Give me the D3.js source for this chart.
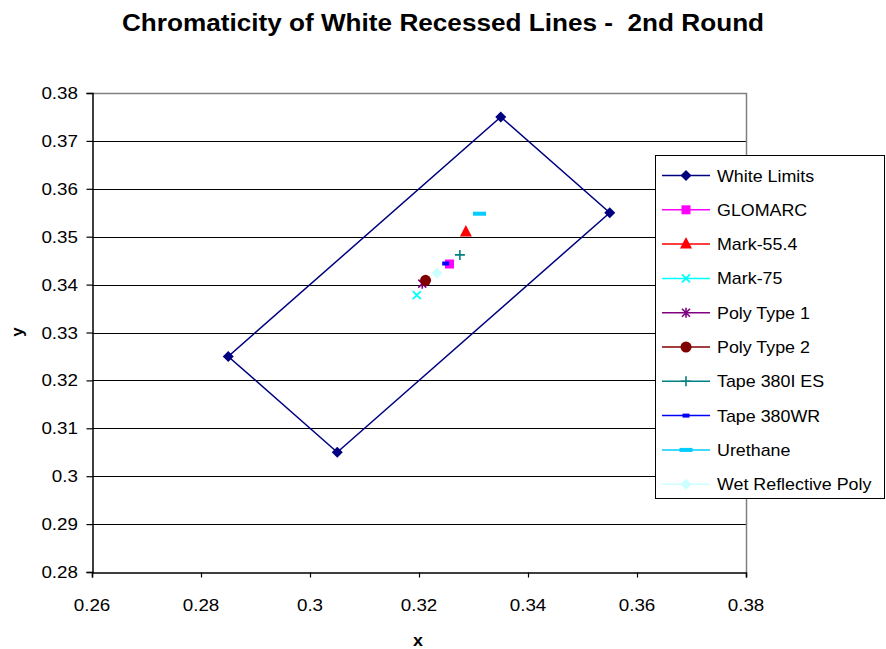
<!DOCTYPE html>
<html>
<head>
<meta charset="utf-8">
<script src="https://cdn.jsdelivr.net/npm/d3@7"></script>
<style>
  html, body { margin: 0; padding: 0; background: #fff; }
  svg { display: block; font-family: Arial, "Liberation Sans", sans-serif; }
  svg text { white-space: pre; }
</style>
</head>
<body>
<svg id="chart" width="886" height="649"></svg>
<script>
// Chromaticity coordinates (CIE x, y)
const seriesNames = ["White Limits", "GLOMARC", "Mark-55.4", "Mark-75", "Poly Type 1",
  "Poly Type 2", "Tape 380I ES", "Tape 380WR", "Urethane", "Wet Reflective Poly"];

// White limit polygon corners (closed)
const whiteLimitsX = [0.305, 0.285, 0.335, 0.355, 0.305];
const whiteLimitsY = [0.305, 0.325, 0.375, 0.355, 0.305];

// One measured point per material (same order as seriesNames, after White Limits)
const materialX = [0.3256, 0.3286, 0.3196, 0.3206, 0.3212, 0.3275, 0.3249, 0.3311, 0.3233];
const materialY = [0.3443, 0.3510, 0.3378, 0.3402, 0.3409, 0.3462, 0.3444, 0.3548, 0.3424];

const xTicks = [0.26, 0.28, 0.30, 0.32, 0.34, 0.36, 0.38];
const yTicks = [0.28, 0.29, 0.30, 0.31, 0.32, 0.33, 0.34, 0.35, 0.36, 0.37, 0.38];

const colors = ["#000080", "#FF00FF", "#FF0000", "#00FFFF", "#800080",
  "#800000", "#008080", "#0000FF", "#00CCFF", "#CCFFFF"];
const shapes = ["diamond", "square", "triangle", "cross", "star",
  "circle", "plus", "dash", "longdash", "diamond"];

const svg = d3.select("#chart");
const plot = { left: 92, right: 746, top: 93, bottom: 572 };

const x = d3.scaleLinear().domain([0.26, 0.38]).range([plot.left, plot.right]);
const y = d3.scaleLinear().domain([0.28, 0.38]).range([plot.bottom, plot.top]);

// Horizontally widened text, the way the chart's typeface renders
function wideText(parent, px, py, str, opts) {
  const g = parent.append("g")
    .attr("transform", `translate(${px},${py}) scale(${opts.sx || 1.1},1)`);
  g.append("text")
    .attr("text-anchor", opts.anchor || "start")
    .attr("font-size", opts.size)
    .attr("font-weight", opts.weight || "normal")
    .attr("fill", "#000")
    .text(str);
  return g;
}

// Title
wideText(svg, 443, 31, "Chromaticity of White Recessed Lines -  2nd Round",
  { anchor: "middle", size: 24, weight: "bold", sx: 1.09 });

// Horizontal gridlines
svg.append("g").selectAll("line")
  .data(yTicks.filter(t => t > 0.28 && t < 0.38))
  .join("line")
  .attr("x1", plot.left).attr("x2", plot.right)
  .attr("y1", d => Math.round(y(d)) + 0.5).attr("y2", d => Math.round(y(d)) + 0.5)
  .attr("stroke", "#000").attr("stroke-width", 1);

// Plot border (top and right, gray)
svg.append("path")
  .attr("d", `M${plot.left},${plot.top + 0.5}H${plot.right + 0.5}V${plot.bottom}`)
  .attr("fill", "none").attr("stroke", "#808080").attr("stroke-width", 1.5);

// Axes
const xAxis = svg.append("g")
  .attr("transform", `translate(0,${plot.bottom + 0.5})`)
  .call(d3.axisBottom(x).tickValues(xTicks).tickSize(5).tickFormat(() => ""));
const yAxis = svg.append("g")
  .attr("transform", `translate(${plot.left + 0.5},0)`)
  .call(d3.axisLeft(y).tickValues(yTicks).tickSize(6).tickFormat(() => ""));
[xAxis, yAxis].forEach(a => {
  a.select(".domain").attr("stroke", "#000").attr("stroke-width", 1.5);
  a.selectAll(".tick line").attr("stroke", "#000").attr("stroke-width", 1.2);
});

const fmt = d => String(+d.toFixed(2));
xTicks.forEach(t => wideText(svg, x(t), 611, fmt(t), { anchor: "middle", size: 16.5, sx: 1.14 }));
yTicks.forEach(t => wideText(svg, 78, y(t) + 6, fmt(t), { anchor: "end", size: 16.5, sx: 1.14 }));

// Axis titles
wideText(svg, 418, 646, "x", { anchor: "middle", size: 17, weight: "bold", sx: 1.05 });
const yTitle = svg.append("g").attr("transform", "translate(23,332) rotate(-90)");
yTitle.append("text").attr("text-anchor", "middle").attr("font-size", 17)
  .attr("font-weight", "bold").text("y");

// Marker drawing
function marker(g, shape, color, cx, cy) {
  const m = g.append("g").attr("transform", `translate(${cx},${cy})`);
  switch (shape) {
    case "diamond":
      m.append("path").attr("d", "M0,-5.5L5.5,0L0,5.5L-5.5,0Z").attr("fill", color);
      break;
    case "square":
      m.append("rect").attr("x", -4.5).attr("y", -4.5).attr("width", 9).attr("height", 9).attr("fill", color);
      break;
    case "triangle":
      m.append("path").attr("d", "M0,-7L6,4.5L-6,4.5Z").attr("fill", color);
      break;
    case "cross":
      m.append("path").attr("d", "M-4,-4L4,4M-4,4L4,-4").attr("stroke", color).attr("stroke-width", 1.8);
      break;
    case "star":
      m.append("path").attr("d", "M-4,-4L4,4M-4,4L4,-4M0,-5V5")
        .attr("stroke", color).attr("stroke-width", 1.6);
      break;
    case "circle":
      m.append("circle").attr("r", 5.5).attr("fill", color);
      break;
    case "plus":
      m.append("path").attr("d", "M-5,0H5M0,-5V5").attr("stroke", color).attr("stroke-width", 1.6);
      break;
    case "dash":
      m.append("rect").attr("x", -3.5).attr("y", -2).attr("width", 7).attr("height", 4).attr("fill", color);
      break;
    case "longdash":
      m.append("rect").attr("x", -6.5).attr("y", -2).attr("width", 13).attr("height", 4).attr("fill", color);
      break;
  }
}

// White limits polygon
const limitPts = whiteLimitsX.map((v, i) => [v, whiteLimitsY[i]]);
svg.append("path")
  .datum(limitPts)
  .attr("d", d3.line().x(d => x(d[0])).y(d => y(d[1])))
  .attr("fill", "none").attr("stroke", colors[0]).attr("stroke-width", 1.5);
const pts = svg.append("g");
limitPts.slice(0, 4).forEach(d => marker(pts, shapes[0], colors[0], x(d[0]), y(d[1])));

// Material points (drawn in legend order)
materialX.forEach((v, i) => marker(pts, shapes[i + 1], colors[i + 1], x(v), y(materialY[i])));

// Legend
const legend = svg.append("g");
legend.append("rect")
  .attr("x", 655.5).attr("y", 155.5).attr("width", 229).attr("height", 343)
  .attr("fill", "#fff").attr("stroke", "#000").attr("stroke-width", 1);
seriesNames.forEach((name, i) => {
  const ly = 175.5 + i * 34.3;
  legend.append("line").attr("x1", 662).attr("x2", 710).attr("y1", ly).attr("y2", ly)
    .attr("stroke", colors[i]).attr("stroke-width", 1.5);
  marker(legend, shapes[i], colors[i], 686, ly);
  wideText(legend, 717, ly + 6, name, { size: 17, sx: 1.05 });
});
</script>
</body>
</html>
